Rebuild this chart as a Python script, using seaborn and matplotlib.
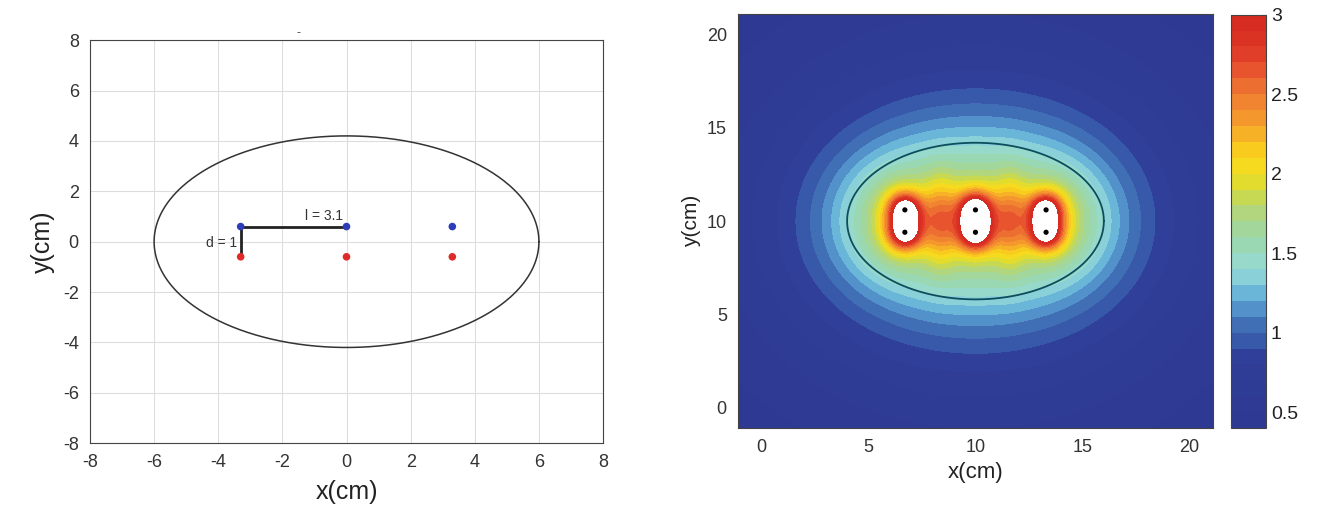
import numpy as np
import pandas as pd
import matplotlib
matplotlib.use("Agg")
import matplotlib.pyplot as plt
import seaborn as sns
from matplotlib.colors import LinearSegmentedColormap

# electrode layout (cm)
elec_x = [-3.3, 0.0, 3.3]
elec_y_top = 0.6
elec_y_bot = -0.6
ell_a = 6.0
ell_b = 4.2

# right panel: domain and electrodes shifted to centre (10, 10)
centre = 10.0
dom_min, dom_max = -1.1, 21.1
cbar_ticks = [0.5, 1, 1.5, 2, 2.5, 3]
levels = np.arange(0.4, 3.001, 0.1)

# colour stops (value, colour)
cb_vals = [0.4, 0.85, 0.9, 1.0, 1.1, 1.2, 1.3, 1.4, 1.5, 1.6, 1.7, 1.8,
           1.9, 2.0, 2.1, 2.2, 2.3, 2.4, 2.5, 2.6, 2.7, 2.8, 3.0]
cb_cols = ["#2d3891", "#303f99", "#3450a3", "#3b62ae", "#4a80c0",
           "#5ba6d6", "#7cc8dc", "#96d8d6", "#98d9c0", "#9cd6a8", "#a8d690",
           "#bcd768", "#d4dc3c", "#f0dc22", "#fad81c", "#f8bf22", "#f6a52a",
           "#f28e30", "#ee7a30", "#ea6230", "#e4482c", "#dc3626", "#d42a20"]
cmap = LinearSegmentedColormap.from_list(
    "cb", [((v - 0.4) / 2.6, c) for v, c in zip(cb_vals, cb_cols)])

sns.set_style("white")
plt.rcParams["font.family"] = ["Liberation Sans", "DejaVu Sans"]
plt.rcParams["axes.unicode_minus"] = False

fig = plt.figure(figsize=(13.19, 5.22), dpi=100)
ax1 = fig.add_axes([0.0682, 0.151, 0.389, 0.772])
ax2 = fig.add_axes([0.5595, 0.180, 0.3601, 0.793])
cax = fig.add_axes([0.9333, 0.180, 0.0265, 0.792])

# ---- left panel: geometry ----
t = np.linspace(0, 2 * np.pi, 400)
ell = pd.DataFrame({"x": ell_a * np.cos(t), "y": ell_b * np.sin(t)})
sns.lineplot(data=ell, x="x", y="y", sort=False, estimator=None,
             color="#333333", lw=1.1, ax=ax1)

ax1.plot([elec_x[0], elec_x[1]], [elec_y_top, elec_y_top], color="#222222", lw=2)
ax1.plot([elec_x[0], elec_x[0]], [elec_y_top, elec_y_bot], color="#222222", lw=2)
sns.scatterplot(x=elec_x, y=[elec_y_top] * 3, color="#2f3cb8", s=30, edgecolor="none", ax=ax1, zorder=3)
sns.scatterplot(x=elec_x, y=[elec_y_bot] * 3, color="#e02a2a", s=30, edgecolor="none", ax=ax1, zorder=3)
ax1.text(-0.7, 0.75, "l = 3.1", fontsize=10, color="#333333", ha="center", va="bottom")
ax1.text(-3.42, -0.06, "d = 1", fontsize=10, color="#333333", ha="right", va="center")
ax1.text(-1.5, 8.15, "-", fontsize=9, color="#444444", ha="center")

ax1.set_xlim(-8, 8)
ax1.set_ylim(-8, 8)
ax1.set_xticks(np.arange(-8, 9, 2))
ax1.set_yticks(np.arange(-8, 9, 2))
ax1.grid(True, color="#dddddd", lw=0.8)
ax1.tick_params(direction="in", length=4, labelsize=13, colors="#333333", pad=8)
for s in ax1.spines.values():
    s.set_color("#444444")
ax1.set_xlabel("x(cm)", fontsize=18, color="#222222", labelpad=6)
ax1.set_ylabel("y(cm)", fontsize=18, color="#222222", labelpad=6)

# ---- right panel: field map ----
xs = np.linspace(dom_min, dom_max, 500)
X, Y = np.meshgrid(xs, xs)
far = np.zeros_like(X)
near = np.zeros_like(X)
for ex in elec_x:
    for ey in (elec_y_top, elec_y_bot):
        dx = X - (ex + centre)
        dy = Y - (ey + centre)
        far += 1 / np.sqrt(dx ** 2 + dy ** 2 + 0.36)
        near += 1 / (1 + dx ** 2 + (0.85 * dy) ** 2) ** 2
# bridges between neighbouring electrode pairs
gaps = np.zeros_like(X)
for xa, xb in zip(elec_x[:-1], elec_x[1:]):
    gx = (xa + xb) / 2 + centre
    gaps += np.exp(-(X - gx) ** 2 / (2 * 0.5 ** 2) - (Y - centre) ** 2 / (2 * 1.57 ** 2))
# far field, levelling off inside the tissue ellipse
cap = 1.5 + 0.25 * np.exp(-((X - centre) / 2.5) ** 2 / 2 - ((Y - centre) / 1.8) ** 2 / 2)
base = 0.02 + 1.1 * far
base = (base ** -10 + cap ** -10) ** -0.1
field = base + 1.77 * near + 0.5 * gaps
field = np.maximum(field, 0.41)

cf = ax2.contourf(X, Y, field, levels=levels, cmap=cmap)
sns.lineplot(x=ell["x"] + centre, y=ell["y"] + centre, sort=False, estimator=None,
             color="#0d4d5c", lw=1.3, ax=ax2)
ex_all = [e + centre for e in elec_x] * 2
ey_all = [elec_y_top + centre] * 3 + [elec_y_bot + centre] * 3
sns.scatterplot(x=ex_all, y=ey_all, color="black", s=14, edgecolor="none", ax=ax2, zorder=3)

ax2.set_xlim(dom_min, dom_max)
ax2.set_ylim(dom_min, dom_max)
ax2.set_xticks([0, 5, 10, 15, 20])
ax2.set_yticks([0, 5, 10, 15, 20])
ax2.tick_params(direction="in", length=0, labelsize=13, colors="#333333", pad=8)
for s in ax2.spines.values():
    s.set_color("#444444")
ax2.set_xlabel("x(cm)", fontsize=16, color="#222222", labelpad=4)
ax2.set_ylabel("y(cm)", fontsize=15, color="#222222", labelpad=4)

cb = fig.colorbar(cf, cax=cax, ticks=cbar_ticks)
cb.ax.set_yticklabels(["0.5", "1", "1.5", "2", "2.5", "3"])
cb.ax.tick_params(direction="in", length=3, labelsize=14, colors="#222222")
cb.outline.set_edgecolor("#444444")

fig.savefig("out.png", dpi=100)
